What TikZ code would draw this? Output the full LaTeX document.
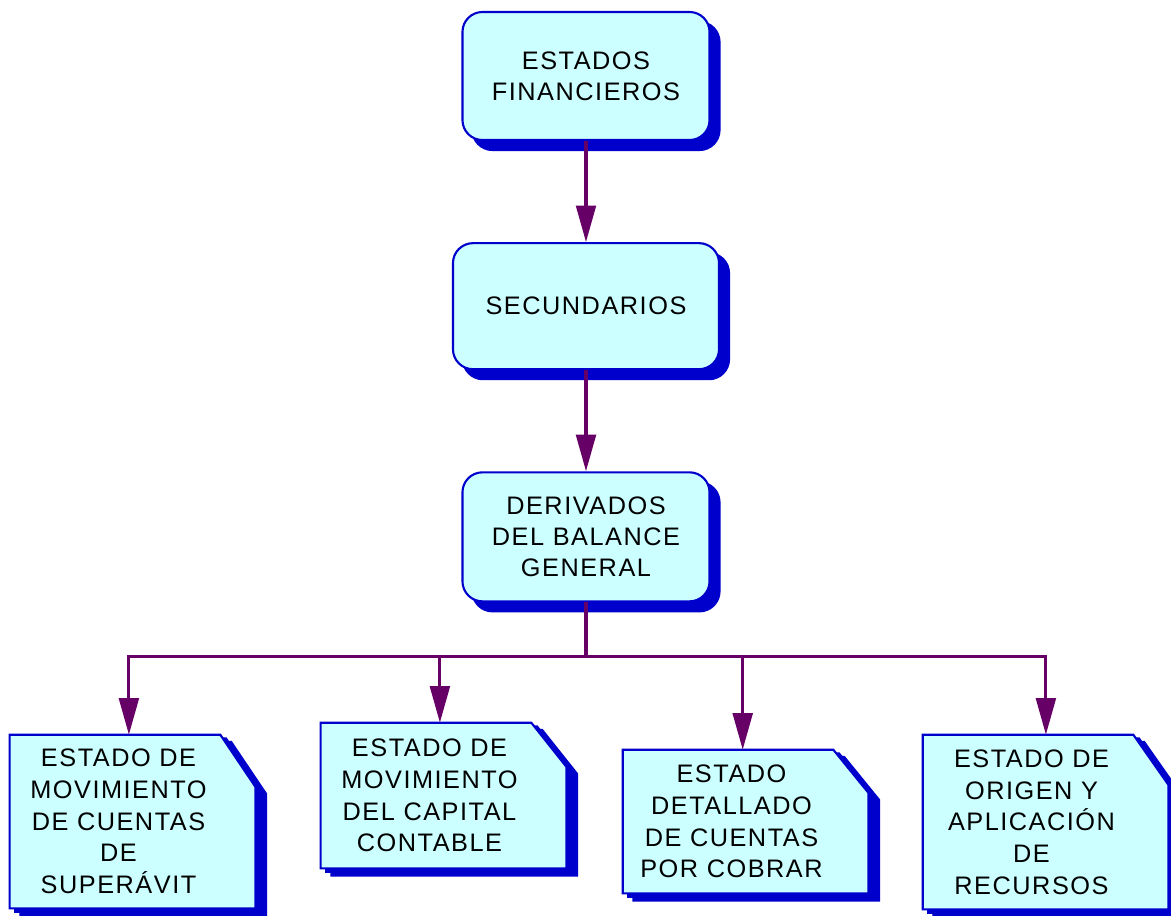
\documentclass[tikz,border=0pt]{standalone}
\usepackage{fontspec}
\newfontfamily\cajafont{Liberation Sans}[LetterSpace=6]
\usetikzlibrary{positioning,arrows.meta,shadows,backgrounds}

\definecolor{relleno}{RGB}{204,255,255}
\definecolor{borde}{RGB}{0,0,204}
\definecolor{flecha}{RGB}{102,0,102}

\tikzset{
  caja/.style={draw=borde, line width=1.5pt, fill=relleno, rounded corners=0.5cm,
    align=center, font=\cajafont\fontsize{18}{22}\selectfont,
    copy shadow={shadow xshift=0.25cm, shadow yshift=-0.25cm, draw=borde, fill=borde}},
  hoja/.style={align=center, font=\cajafont\fontsize{18}{22.5}\selectfont,
    minimum width=5.425cm},
  flechita/.style={draw=flecha, line width=2.2pt, -{Triangle[length=26pt,width=14pt]}},
  linea/.style={draw=flecha, line width=2.2pt}
}

% hoja con la esquina cortada: #1 nodo, #2 alto del corte
\newcommand{\hojafondo}[2]{%
  \foreach \dx/\dy/\col in {0.27/0.18/borde, 0.14/0.09/borde, 0/0/relleno}
    \filldraw[fill=\col, draw=borde, line width=1.5pt,
        transform canvas={xshift=\dx cm, yshift=-\dy cm}]
      (#1.north west) -- ([xshift=-0.175cm]#1.north east)
      -- ([xshift=0.7cm, yshift=-#2]#1.north east)
      -- ([xshift=0.7cm]#1.south east) -- (#1.south west) -- cycle;
}

\begin{document}
\begin{tikzpicture}[x=0.025cm, y=-0.025cm]
   \useasboundingbox (0,0) rectangle (1171,915);

   % cadena principal
   \node[caja, minimum width=6.175cm, minimum height=3.2cm] (fin) at (586,76)
      {ESTADOS\\FINANCIEROS};
   \node[caja, minimum width=6.65cm, minimum height=3.15cm, below=2.525cm of fin] (sec)
      {SECUNDARIOS};
   \node[caja, minimum width=6.175cm, minimum height=3.225cm, below=2.525cm of sec] (der)
      {DERIVADOS\\DEL BALANCE\\GENERAL};

   % estados derivados
   \node[hoja, minimum height=4.325cm] (sup) at (118.5,821.5)
      {ESTADO DE\\MOVIMIENTO\\DE CUENTAS\\DE\\SUPERÁVIT};
   \node[hoja, minimum height=3.625cm] (cap) at (429.5,795.5)
      {ESTADO DE\\MOVIMIENTO\\DEL CAPITAL\\CONTABLE};
   \node[hoja, minimum height=3.575cm] (cob) at (731.5,821.5)
      {ESTADO\\DETALLADO\\DE CUENTAS\\POR COBRAR};
   \node[hoja, minimum height=4.35cm] (rec) at (1031.5,822)
      {ESTADO DE\\ORIGEN Y\\APLICACIÓN\\DE\\RECURSOS};

   \begin{scope}[on background layer]
      \hojafondo{sup}{1.3cm}
      \hojafondo{cap}{1.1cm}
      \hojafondo{cob}{1.075cm}
      \hojafondo{rec}{1.25cm}
   \end{scope}

   \coordinate[below=1.35cm of der] (split);

   \draw[flechita] (fin) -- (sec);
   \draw[flechita] (sec) -- (der);
   \draw[linea] (der) -- (split);
   \draw[flechita] (split) -| ([xshift=0.26cm]sup.north);
   \draw[flechita] (split) -| ([xshift=0.26cm]cap.north);
   \draw[flechita] (split) -| ([xshift=0.28cm]cob.north);
   \draw[flechita] (split) -| ([xshift=0.36cm]rec.north);
\end{tikzpicture}
\end{document}
